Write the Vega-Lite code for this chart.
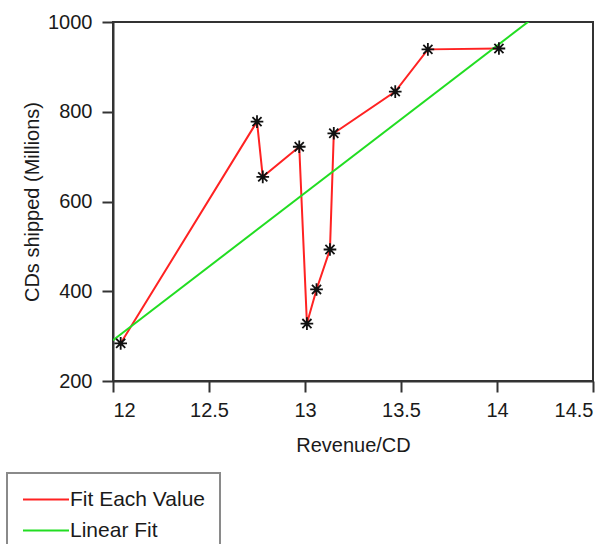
{
  "$schema": "https://vega.github.io/schema/vega-lite/v6.json",
  "width": 480,
  "height": 359,
  "autosize": {"type": "none"},
  "padding": {"left": 113, "top": 22, "right": 23, "bottom": 163},
  "background": "white",
  "data": {
    "values": [
      {"revenue_per_cd": 12.04, "cds_shipped": 284},
      {"revenue_per_cd": 12.75, "cds_shipped": 778},
      {"revenue_per_cd": 12.78, "cds_shipped": 655},
      {"revenue_per_cd": 12.97, "cds_shipped": 722},
      {"revenue_per_cd": 13.01, "cds_shipped": 328},
      {"revenue_per_cd": 13.06, "cds_shipped": 404},
      {"revenue_per_cd": 13.13, "cds_shipped": 493},
      {"revenue_per_cd": 13.15, "cds_shipped": 752},
      {"revenue_per_cd": 13.47, "cds_shipped": 845},
      {"revenue_per_cd": 13.64, "cds_shipped": 939},
      {"revenue_per_cd": 14.01, "cds_shipped": 941}
    ]
  },
  "encoding": {
    "x": {
      "field": "revenue_per_cd",
      "type": "quantitative",
      "title": "Revenue/CD",
      "scale": {"domain": [12, 14.5], "nice": false, "zero": false},
      "axis": {"values": [12, 12.5, 13, 13.5, 14, 14.5], "format": "~g", "grid": false, "titlePadding": 15}
    },
    "y": {
      "field": "cds_shipped",
      "type": "quantitative",
      "title": "CDs shipped (Millions)",
      "scale": {"domain": [200, 1000], "nice": false, "zero": false},
      "axis": {"values": [200, 400, 600, 800, 1000], "format": "d", "grid": false, "titlePadding": 5}
    }
  },
  "layer": [
    {
      "mark": {"type": "line", "strokeWidth": 2, "clip": true},
      "encoding": {
        "color": {"datum": "Fit Each Value", "type": "nominal",
          "scale": {"domain": ["Fit Each Value", "Linear Fit"], "range": ["#ff2222", "#22dd22"]},
          "legend": {"title": null}}
      }
    },
    {
      "transform": [
        {"regression": "cds_shipped", "on": "revenue_per_cd", "extent": [12, 14.5]}
      ],
      "mark": {"type": "line", "strokeWidth": 2, "clip": true},
      "encoding": {
        "color": {"datum": "Linear Fit", "type": "nominal"}
      }
    },
    {
      "mark": {
        "type": "point",
        "shape": "M-1,0L1,0M0,-1L0,1M-0.72,-0.72L0.72,0.72M-0.72,0.72L0.72,-0.72",
        "filled": false,
        "stroke": "#111111",
        "strokeWidth": 1.8,
        "size": 160,
        "opacity": 1
      }
    }
  ],
  "config": {
    "font": "Liberation Sans",
    "view": {"stroke": "#333333", "strokeWidth": 2},
    "axis": {
      "domainColor": "#333333",
      "domainWidth": 2,
      "tickColor": "#333333",
      "tickWidth": 2,
      "tickSize": 11,
      "labelPadding": 8,
      "labelFont": "Liberation Sans",
      "labelFontSize": 20,
      "labelColor": "#1a1a1a",
      "titleFont": "Liberation Sans",
      "titleFontSize": 20,
      "titleFontWeight": "normal",
      "titleColor": "#1a1a1a"
    },
    "axisY": {"labelPadding": 10},
    "legend": {
      "orient": "none",
      "legendX": -106,
      "legendY": 451,
      "symbolType": "M-2,0L2,0",
      "symbolSize": 529,
      "symbolOffset": 12.5,
      "symbolStrokeWidth": 2,
      "labelFont": "Liberation Sans",
      "labelFontSize": 21,
      "labelColor": "#1a1a1a",
      "labelOffset": 11.5,
      "rowPadding": 8,
      "padding": 14,
      "strokeColor": "#8a8a8a",
      "strokeWidth": 2
    }
  }
}
